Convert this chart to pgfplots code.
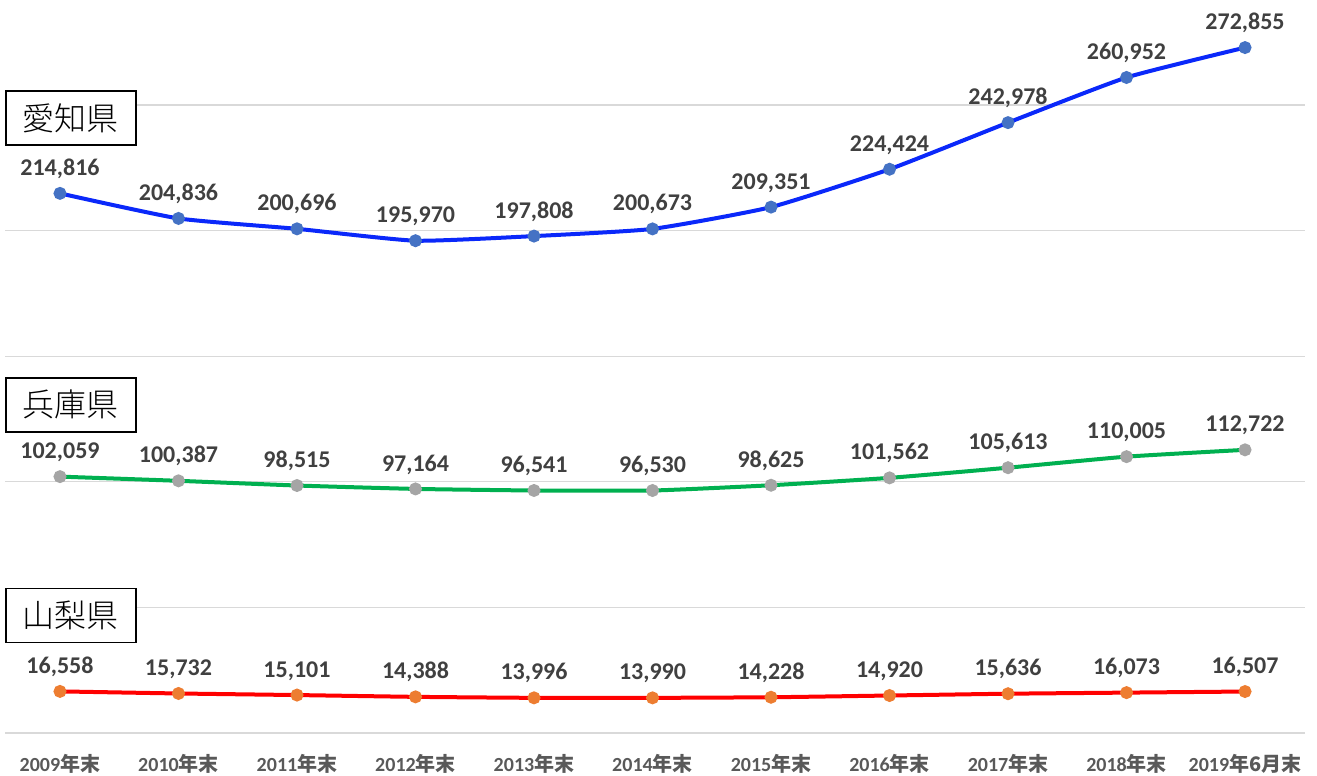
\documentclass[border=0pt]{standalone}
\usepackage{pgfplots}
\pgfplotsset{compat=1.18}
\usepackage{fontspec}
\setmainfont{Carlito}
\newfontfamily\cjk{Noto Sans CJK JP}
\newfontfamily\cjklight{Noto Sans CJK JP Light}
\definecolor{ailine}{RGB}{10,40,250}
\definecolor{aimark}{RGB}{68,114,196}
\definecolor{hyline}{RGB}{0,176,80}
\definecolor{hymark}{RGB}{165,165,165}
\definecolor{yaline}{RGB}{255,0,0}
\definecolor{yamark}{RGB}{237,125,49}
\definecolor{lbl}{RGB}{64,64,64}
\definecolor{tlbl}{RGB}{89,89,89}
\begin{document}
\begin{tikzpicture}
\begin{axis}[
  scale only axis,
  width=650pt, height=366.5pt,
  xmin=-0.464, xmax=10.506,
  ymin=0, ymax=291800,
  clip=false,
  axis line style={draw=none},
  ytick={0,50000,100000,150000,200000,250000},
  yticklabels={},
  ymajorgrids,
  major grid style={draw={rgb,255:red,217;green,217;blue,217}, line width=0.6pt},
  major tick length=0pt,
  xtick={0,...,10},
  xticklabels={{2009{\cjk 年末}},{2010{\cjk 年末}},{2011{\cjk 年末}},{2012{\cjk 年末}},{2013{\cjk 年末}},{2014{\cjk 年末}},{2015{\cjk 年末}},{2016{\cjk 年末}},{2017{\cjk 年末}},{2018{\cjk 年末}},{2019{\cjk 年6月末}}},
  xticklabel style={font=\bfseries\fontsize{10}{12}\selectfont, text=tlbl, anchor=base, yshift=-19.5pt},
  /pgf/number format/1000 sep={,},
  /pgf/number format/assume math mode=true,
  nodes near coords={\pgfmathprintnumber[fixed,precision=0]{\pgfplotspointmeta}},
  nodes near coords style={font=\bfseries\fontsize{12}{14}\selectfont, text=lbl, anchor=south, yshift=3pt},
  every axis plot/.append style={line width=2pt, smooth, tension=0.3, mark=*, mark size=2.2pt},
]
\coordinate (SW) at (rel axis cs:0,0);
\coordinate (NE) at (rel axis cs:1,1);
\addplot[color=ailine, mark options={draw=aimark, fill=aimark}] coordinates {
(0,214816) (1,204836) (2,200696) (3,195970) (4,197808) (5,200673) (6,209351) (7,224424) (8,242978) (9,260952) (10,272855)};
\addplot[color=hyline, mark options={draw=hymark, fill=hymark}] coordinates {
(0,102059) (1,100387) (2,98515) (3,97164) (4,96541) (5,96530) (6,98625) (7,101562) (8,105613) (9,110005) (10,112722)};
\addplot[color=yaline, mark options={draw=yamark, fill=yamark}] coordinates {
(0,16558) (1,15732) (2,15101) (3,14388) (4,13996) (5,13990) (6,14228) (7,14920) (8,15636) (9,16073) (10,16507)};
\tikzset{pref/.style={draw=black, line width=0.8pt, fill=white, anchor=north west, minimum width=65pt, minimum height=27pt, inner sep=0pt, font=\cjklight\fontsize{16}{18}\selectfont}}
\node[pref] at (rel axis cs:0,0.877) {愛知県};
\node[pref] at (rel axis cs:0,0.4857) {兵庫県};
\node[pref] at (rel axis cs:0,0.198) {山梨県};
\end{axis}
\pgfresetboundingbox
\path[use as bounding box] ([xshift=-2.5pt,yshift=-21.5pt]SW) rectangle ([xshift=6pt]NE);
\end{tikzpicture}
\end{document}
